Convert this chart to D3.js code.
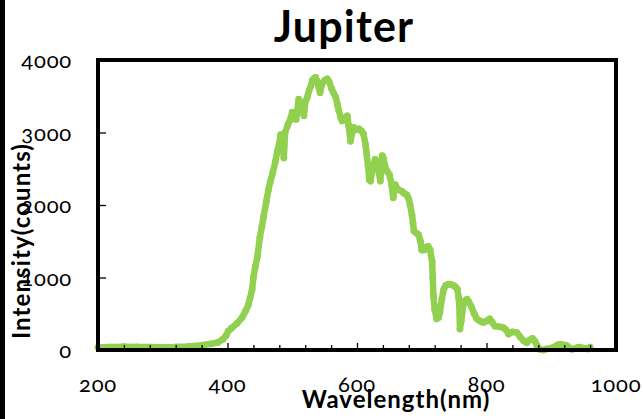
<!DOCTYPE html>
<html>
<head>
<meta charset="utf-8">
<script src="https://cdn.jsdelivr.net/npm/d3@7"></script>
<style>
  html, body { margin: 0; padding: 0; background: #fff; }
  svg { display: block; font-family: Lato, "Open Sans", sans-serif; }
  .num { font-variant-numeric: oldstyle-nums; font-feature-settings: "onum" 1; }
</style>
</head>
<body>
<svg id="chart" width="643" height="419"></svg>
<script>
// Spectrum of Jupiter: wavelength (nm) and detector intensity (counts)
const wavelength = [
  200, 220, 240, 260, 280, 300, 320, 340, 360, 375, 385, 393, 398, 401, 406, 415, 422, 428, 432, 435,
  438, 440, 443, 446, 450, 453, 456, 460, 463, 466, 470, 474, 477, 480, 482, 485, 487, 489, 493, 497,
  500, 503, 506, 510, 514, 518, 520, 523, 526, 529, 531, 534, 536, 539, 541, 543, 546, 550, 554, 557,
  561, 564, 567, 570, 572, 575, 577, 581, 585, 587, 590, 592, 595, 599, 603, 607, 610, 613, 615, 617,
  619, 621, 624, 628, 631, 633, 636, 639, 641, 644, 647, 650, 653, 656, 659, 663, 669, 673, 677, 680,
  682, 685, 686.5, 688, 692, 695, 698, 700, 704, 707, 710, 713, 716, 717, 718, 720, 723, 726, 728, 731,
  734, 737, 741, 745, 749, 752, 755, 757, 758, 759, 761, 764, 767, 770, 773, 777, 781, 785, 790, 795,
  800, 805, 809, 813, 820, 826, 830, 834, 840, 847, 852, 857, 862, 867, 871, 875, 878, 882, 888, 893,
  898, 904, 910, 914, 919, 924, 928, 932, 937, 941, 944, 949, 953, 957, 960
];
const intensity = [
  35, 40, 45, 42, 40, 38, 42, 50, 65, 85, 105, 150, 200, 260, 300, 370, 440, 540, 620, 720,
  830, 1000, 1150, 1280, 1550, 1700, 1850, 2050, 2200, 2320, 2450, 2600, 2740, 2850, 2970, 2900, 2650, 3000, 3100, 3180,
  3280, 3250, 3180, 3460, 3400, 3230, 3420, 3480, 3580, 3650, 3720, 3750, 3760, 3700, 3620, 3550, 3670, 3720, 3740, 3700,
  3600, 3540, 3490, 3380, 3300, 3200, 3160, 3200, 3230, 3100, 2880, 2980, 3070, 3040, 3050, 3020, 2980, 2840, 2700, 2550,
  2350, 2330, 2500, 2630, 2600, 2480, 2330, 2680, 2640, 2510, 2460, 2420, 2300, 2100, 2280, 2220, 2190, 2160, 2140, 2080,
  2000, 1860, 1750, 1640, 1610, 1590, 1500, 1380, 1380, 1420, 1430, 1380, 1220, 1000, 750, 560, 430, 450, 520, 700,
  840, 890, 910, 905, 890, 870, 840, 720, 610, 290, 400, 610, 680, 700, 660, 590, 500, 430, 400, 380,
  400, 430, 380, 330, 320, 310, 280, 220, 250, 240, 180, 130, 100, 140, 160, 120, 60, 10, 0, 15,
  20, 40, 70, 80, 70, 60, 30, 10, 20, 35, 40, 25, 20, 15, 40
];

const xTicks = [200, 400, 600, 800, 1000];
const xMinorTicks = d3.range(200, 1001, 40);
const yTicks = [0, 1000, 2000, 3000, 4000];

const chartTitle = "Jupiter";
const xTitle = "Wavelength(nm)";
const yTitle = "Intensity(counts)";

const svg = d3.select("#chart");
const W = 643, H = 419;
const plotLeft = 98, plotRight = 616, plotTop = 60, plotBottom = 350;

const x = d3.scaleLinear().domain([200, 1000]).range([plotLeft, plotRight]);
const y = d3.scaleLinear().domain([0, 4000]).range([plotBottom, plotTop]);

const green = "#92d050";

svg.append("rect").attr("width", W).attr("height", H).attr("fill", "#fff");
// dark strip along the left edge
svg.append("rect").attr("x", 0).attr("y", 0).attr("width", 5).attr("height", H).attr("fill", "#000");

// plot area
svg.append("rect").attr("x", plotLeft).attr("y", plotTop)
  .attr("width", plotRight - plotLeft).attr("height", plotBottom - plotTop)
  .attr("fill", "#fff");

// the spectrum: a thick trace with dense markers
const pts = wavelength.map((w, i) => [w, intensity[i]]);
const line = d3.line().x(d => x(d[0])).y(d => y(d[1]));
svg.append("path").datum(pts)
  .attr("d", line)
  .attr("fill", "none")
  .attr("stroke", green)
  .attr("stroke-width", 6.5)
  .attr("stroke-linejoin", "round")
  .attr("stroke-linecap", "round");
svg.append("g").selectAll("circle").data(pts).join("circle")
  .attr("cx", d => x(d[0])).attr("cy", d => y(d[1]))
  .attr("r", 3.4).attr("fill", green);

// frame
svg.append("rect").attr("x", plotLeft).attr("y", plotTop)
  .attr("width", plotRight - plotLeft).attr("height", plotBottom - plotTop)
  .attr("fill", "none").attr("stroke", "#000").attr("stroke-width", 4);

// inward x ticks
const xAxis = d3.axisTop(x).tickValues(xMinorTicks)
  .tickSize(5).tickFormat("");
const gx = svg.append("g").attr("transform", `translate(0,${plotBottom})`).call(xAxis);
gx.select(".domain").remove();
gx.selectAll(".tick line").attr("stroke", "#000").attr("stroke-width", 1.3)
  .attr("y2", d => (d % 200 === 0 ? -7 : -5));

// inward y ticks
const yAxis = d3.axisRight(y).tickValues(yTicks.filter(v => v > 0 && v < 4000))
  .tickSize(8).tickFormat("");
const gy = svg.append("g").attr("transform", `translate(${plotLeft},0)`).call(yAxis);
gy.select(".domain").remove();
gy.selectAll(".tick line").attr("stroke", "#000").attr("stroke-width", 1.3);

// tick labels
svg.append("g").selectAll("text").data(xTicks).join("text")
  .attr("class", "num")
  .attr("x", d => x(d)).attr("y", 392)
  .attr("text-anchor", "middle")
  .attr("font-size", 22).attr("letter-spacing", 0.8).attr("fill", "#000")
  .text(d => d);

svg.append("g").selectAll("text").data(yTicks).join("text")
  .attr("class", "num")
  .attr("x", 72).attr("y", d => y(d) + 8)
  .attr("text-anchor", "end")
  .attr("font-size", 22).attr("letter-spacing", 0.8).attr("fill", "#000")
  .text(d => d);

// titles
svg.append("text").attr("x", 344).attr("y", 42)
  .attr("text-anchor", "middle").attr("font-size", 43).attr("font-weight", 700)
  .attr("letter-spacing", 1.2)
  .attr("fill", "#000").text(chartTitle);

svg.append("text").attr("x", 396).attr("y", 408)
  .attr("text-anchor", "middle").attr("font-size", 24).attr("font-weight", 700)
  .attr("letter-spacing", 1)
  .attr("fill", "#000").text(xTitle);

svg.append("text").attr("transform", "translate(30,241) rotate(-90)")
  .attr("text-anchor", "middle").attr("font-size", 24).attr("font-weight", 700)
  .attr("letter-spacing", 1.1)
  .attr("fill", "#000").text(yTitle);
</script>
</body>
</html>
